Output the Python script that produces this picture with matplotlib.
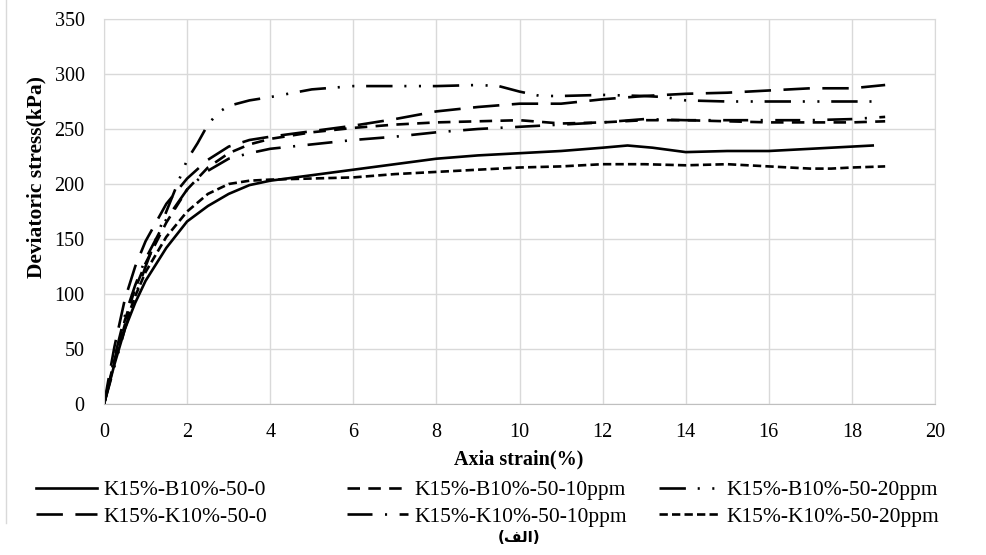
import matplotlib
matplotlib.use("Agg")
import matplotlib.pyplot as plt
from matplotlib.lines import Line2D

plt.rcParams['font.family'] = ['Liberation Serif', 'DejaVu Sans']
plt.rcParams['lines.scale_dashes'] = False

# K15%-B10%-50-0
x_b0 = [0, 0.25, 0.5, 0.75, 1, 1.5, 2, 2.5, 3, 3.5, 4, 5, 6, 7, 8, 9, 10, 11, 12, 12.6, 13.2, 14, 15, 16, 17, 18, 18.5]
y_b0 = [0, 36, 68, 92, 112, 142, 166, 180, 191, 199, 203, 208, 213, 218, 223, 226, 228, 230, 233, 235, 233, 229, 230, 230, 232, 234, 235]

# K15%-B10%-50-10ppm
x_b10 = [0, 0.25, 0.5, 0.75, 1, 1.5, 2, 2.5, 3, 3.5, 4, 5, 6, 7, 8, 9, 10, 11, 12, 13, 14, 15, 16, 17, 18, 18.8]
y_b10 = [0, 40, 76, 105, 128, 165, 195, 215, 228, 236, 241, 247, 251, 254, 256, 257, 258, 255, 256, 258, 258, 257, 256, 256, 256, 257]

# K15%-B10%-50-20ppm
x_b20 = [0, 0.25, 0.5, 0.75, 1, 1.5, 2, 2.25, 2.5, 2.75, 3, 3.5, 4, 5, 6, 7, 8, 9, 9.5, 10, 10.5, 11, 12, 13, 13.5, 14, 15, 16, 17, 18, 18.5]
y_b20 = [0, 34, 68, 98, 125, 175, 222, 237, 254, 265, 271, 276, 279, 286, 289, 289, 289, 290, 289, 284, 280, 280, 281, 280, 279, 276, 275, 275, 275, 275, 275]

# K15%-K10%-50-0
x_k0 = [0, 0.25, 0.5, 0.75, 1, 1.5, 2, 2.5, 3, 3.5, 4, 5, 6, 7, 8, 9, 10, 11, 12, 13, 14, 15, 16, 17, 18, 18.8]
y_k0 = [0, 52, 95, 125, 148, 182, 205, 222, 234, 240, 243, 248, 253, 259, 266, 270, 273, 273, 277, 280, 282, 283, 285, 287, 287, 290]

# K15%-K10%-50-10ppm
x_k10 = [0, 0.25, 0.5, 0.75, 1, 1.5, 2, 2.5, 3, 3.5, 4, 5, 6, 7, 8, 9, 10, 11, 12, 13, 14, 15, 16, 17, 18, 18.8]
y_k10 = [0, 42, 80, 108, 132, 168, 195, 212, 223, 228, 232, 236, 240, 243, 247, 250, 252, 254, 256, 259, 258, 258, 258, 258, 259, 261]

# K15%-K10%-50-20ppm
x_k20 = [0, 0.25, 0.5, 0.75, 1, 1.5, 2, 2.5, 3, 3.5, 4, 5, 6, 7, 8, 9, 10, 11, 12, 13, 14, 15, 16, 17, 17.5, 18, 18.8]
y_k20 = [0, 38, 72, 98, 120, 152, 175, 191, 200, 203, 204, 205, 206, 209, 211, 213, 215, 216, 218, 218, 217, 218, 216, 214, 214, 215, 216]

x_ticks = [0, 2, 4, 6, 8, 10, 12, 14, 16, 18, 20]
y_ticks = [0, 50, 100, 150, 200, 250, 300, 350]

# dash patterns in points (Excel-like)
styles = {
    'solid': '-',
    'mdash': (0, (9, 6)),
    'ldd': (0, (19, 8.5, 1.5, 9, 1.5, 8.5)),
    'ldash': (0, (19, 9)),
    'ld': (0, (18, 9, 1.5, 9)),
    'sdash': (0, (6, 3)),
}

fig = plt.figure(figsize=(9.86, 5.55), dpi=100)
ax = fig.add_axes([0.1055, 0.272, 0.8428, 0.6938])

lw = 1.9
h_b0, = ax.plot(x_b0, y_b0, color='black', lw=lw, ls=styles['solid'], label='K15%-B10%-50-0')
h_b10, = ax.plot(x_b10, y_b10, color='black', lw=lw, ls=styles['mdash'], label='K15%-B10%-50-10ppm')
h_b20, = ax.plot(x_b20, y_b20, color='black', lw=lw, ls=styles['ldd'], label='K15%-B10%-50-20ppm')
h_k0, = ax.plot(x_k0, y_k0, color='black', lw=lw, ls=styles['ldash'], label='K15%-K10%-50-0')
h_k10, = ax.plot(x_k10, y_k10, color='black', lw=lw, ls=styles['ld'], label='K15%-K10%-50-10ppm')
h_k20, = ax.plot(x_k20, y_k20, color='black', lw=lw, ls=styles['sdash'], label='K15%-K10%-50-20ppm')

ax.set_xlim(0, 20)
ax.set_ylim(0, 350)
ax.set_xticks(x_ticks)
ax.set_yticks(y_ticks)
ax.tick_params(length=0, labelsize=14.5)
ax.tick_params(axis='y', pad=14)
ax.tick_params(axis='x', pad=14)
ax.grid(True, color='#d9d9d9', lw=1)
ax.set_axisbelow(True)
for s in ax.spines.values():
    s.set_color('#d9d9d9')
ax.spines['bottom'].set_color('#bfbfbf')

fig.text(519 / 986, 1 - 459 / 555, 'Axia strain(%)', ha='center', va='center',
         fontsize=14.5, fontweight='bold')
fig.text(36 / 986, 1 - 177 / 555, 'Deviatoric stress(kPa)', ha='center', va='center',
         rotation=90, fontsize=15.5, fontweight='bold')

# one legend per column, like Excel's evenly placed entries
cols = [([h_b0, h_k0], 36), ([h_b10, h_k10], 347), ([h_b20, h_k20], 659)]
for hs, xpx in cols:
    fig.legend(handles=hs, loc='upper left', bbox_to_anchor=(xpx / 986, 1 - 480 / 555),
               frameon=False, fontsize=15.5, handlelength=2.85, handletextpad=0.3,
               borderpad=0, borderaxespad=0, labelspacing=0.3)

# Arabic "(الف)" written with presentation forms in visual order (no shaping in matplotlib)
fig.text(519 / 986, 1 - 538 / 555, '(\uFED2\uFEDF\uFE8D)', ha='center', va='center',
         fontsize=11, fontweight='bold', family=['DejaVu Sans'])

fig.add_artist(Line2D([6 / 986, 6 / 986], [1, 1 - 523 / 555], color='#d9d9d9', lw=1))

fig.savefig('out.png', dpi=100)
